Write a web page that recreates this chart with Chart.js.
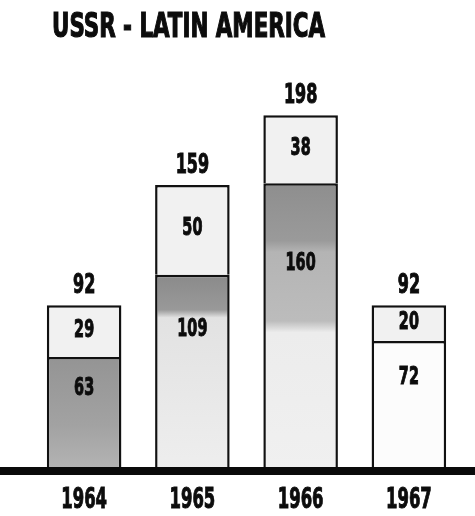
<!DOCTYPE html>
<html>
    <head>
        <title>USSR - Latin America</title>
        <script src="https://cdn.jsdelivr.net/npm/chart.js"></script>
        <style>
            body { margin: 0; background: #fff; }
        </style>
    </head>
    <body>
    <div style="width: 475px; height: 516px;">
    <canvas id="myChart"></canvas>
    </div>

    <script>
        // values
        const years = ['1964', '1965', '1966', '1967'];
        const lower = [63, 109, 160, 72];
        const upper = [29, 50, 38, 20];
        const totals = [92, 159, 198, 92];
        const title = 'USSR - LATIN AMERICA';

        const numFont = '"DejaVu Sans Condensed", "DejaVu Sans", sans-serif';

        // shading of the lower segment, top to bottom
        const shades = [
            [[0, '#949494'], [0.6, '#a2a2a2'], [1, '#b4b4b4']],
            [[0, '#8a8a8a'], [0.18, '#999'], [0.22, '#e2e2e2'], [1, '#eeeeee']],
            [[0, '#8e8e8e'], [0.2, '#9a9a9a'], [0.24, '#b4b4b4'], [0.48, '#bcbcbc'], [0.52, '#ececec'], [1, '#f0f0f0']],
            [[0, '#fcfcfc'], [1, '#fcfcfc']]
        ];

        function lowerFill(c) {
            const chart = c.chart;
            if (!chart.chartArea || c.dataIndex === undefined) return '#bbb';
            const y = chart.scales.y;
            const top = y.getPixelForValue(lower[c.dataIndex]);
            const bot = y.getPixelForValue(0);
            const g = chart.ctx.createLinearGradient(0, top, 0, bot);
            shades[c.dataIndex].forEach(s => g.addColorStop(s[0], s[1]));
            return g;
        }

        // the lettering of the original is very narrow and heavy
        function squeezed(ctx, text, x, y, size, sx) {
            ctx.save();
            ctx.font = 'bold ' + size + 'px ' + numFont;
            ctx.translate(x, y);
            ctx.scale(sx, 1);
            ctx.lineWidth = 1;
            ctx.strokeText(text, 0, 0);
            ctx.fillText(text, 0, 0);
            ctx.restore();
        }

        const labelsPlugin = {
            id: 'labels',
            afterDatasetsDraw(chart) {
                const ctx = chart.ctx;
                const y = chart.scales.y;
                const x = chart.scales.x;
                ctx.save();

                // thick base line across the page
                const base = y.getPixelForValue(0);
                ctx.fillStyle = '#0a0a0a';
                ctx.fillRect(0, base - 3, chart.width, 8);

                ctx.fillStyle = '#0c0c0c';
                ctx.strokeStyle = '#0c0c0c';
                ctx.textAlign = 'center';
                for (let i = 0; i < years.length; i++) {
                    const cx = x.getPixelForValue(i);
                    const pDiv = y.getPixelForValue(lower[i]);
                    const pTop = y.getPixelForValue(totals[i]);

                    ctx.textBaseline = 'middle';
                    squeezed(ctx, upper[i], cx, (pDiv + pTop) / 2 - 1, 25, 0.64);
                    squeezed(ctx, lower[i], cx, pDiv + (base - pDiv) * 0.28, 25, 0.64);

                    ctx.textBaseline = 'alphabetic';
                    squeezed(ctx, totals[i], cx, pTop - 12, 27, 0.66);
                    squeezed(ctx, years[i], cx, base + 38, 29, 0.63);
                }

                // title, squeezed to the width of the original lettering
                ctx.font = 'bold 34px ' + numFont;
                ctx.textAlign = 'left';
                ctx.textBaseline = 'alphabetic';
                const w = ctx.measureText(title).width;
                ctx.translate(52, 37);
                ctx.scale(273 / w, 1);
                ctx.lineWidth = 1.2;
                ctx.strokeText(title, 0, 0);
                ctx.fillText(title, 0, 0);
                ctx.restore();
            }
        };

        const cdata = {
            labels: years,
            datasets: [{
                label: 'lower',
                data: lower,
                backgroundColor: lowerFill,
                borderColor: '#111',
                borderWidth: 2.5,
                barPercentage: 0.84,
                categoryPercentage: 0.82
            }, {
                label: 'upper',
                data: upper,
                backgroundColor: '#f1f1f1',
                borderColor: '#111',
                borderWidth: 2.5,
                barPercentage: 0.84,
                categoryPercentage: 0.82
            }]
        };

        const config = {
            type: 'bar',
            data: cdata,
            plugins: [labelsPlugin],
            options: {
                maintainAspectRatio: false,
                responsive: true,
                animation: false,
                layout: { padding: { left: 30, right: 12, top: 22, bottom: 46 } },
                plugins: {
                    legend: { display: false },
                    tooltip: { enabled: false }
                },
                scales: {
                    x: {
                        stacked: true,
                        display: false
                    },
                    y: {
                        stacked: true,
                        display: false,
                        min: 0,
                        max: 250
                    }
                }
            }
        };

        const ctx = document.getElementById('myChart').getContext('2d');
        const myChart = new Chart(ctx, config);
    </script>
    </body>
</html>
